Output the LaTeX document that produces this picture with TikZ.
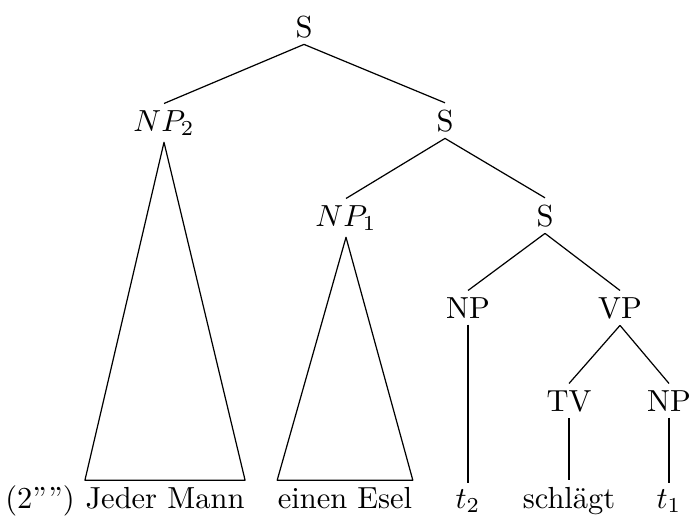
\documentclass[tikz,border=0pt]{standalone}
\usetikzlibrary{positioning}

\begin{document}
\begin{tikzpicture}[x=0.328pt,y=-0.328pt,line join=round,
  every node/.style={anchor=base,inner sep=2pt},
  leaf/.style={inner xsep=0pt}]
\useasboundingbox (0,0) rectangle (691,529);
% category nodes
\node (s1) at (304,37) {S};
\node (np2) at (164,131) {$NP_2$};
\node (s2) at (445,131) {S};
\node (np1) at (346,226) {$NP_1$};
\node (s3) at (545,226) {S};
\node (np) at (468,318) {NP};
\node (vp) at (620,318) {VP};
\node (tv) at (569,411) {TV};
\node (npo) at (669,411) {NP};
% terminals
\node (ex) at (40,508) {(2'''')};
\node[leaf] (jm) at (165,508) {Jeder Mann};
\node[leaf] (ee) at (345,508) {einen Esel};
\node (t2) at (468,508) {$t_2$};
\node (vb) at (569,508) {schlägt};
\node (t1) at (669,508) {$t_1$};
% branches
\draw (s1.south) -- (np2.north);
\draw (s1.south) -- (s2.north);
\draw (s2.south) -- (np1.north);
\draw (s2.south) -- (s3.north);
\draw (s3.south) -- (np.north);
\draw (s3.south) -- (vp.north);
\draw (vp.south) -- (tv.north);
\draw (vp.south) -- (npo.north);
\draw (np.south) -- (t2.north);
\draw (tv.south) -- (vb.north);
\draw (npo.south) -- (t1.north);
% roofs over the quantified NPs
\draw (np2.south) -- (jm.north west) -- (jm.north east) -- cycle;
\draw (np1.south) -- (ee.north west) -- (ee.north east) -- cycle;
\end{tikzpicture}
\end{document}
